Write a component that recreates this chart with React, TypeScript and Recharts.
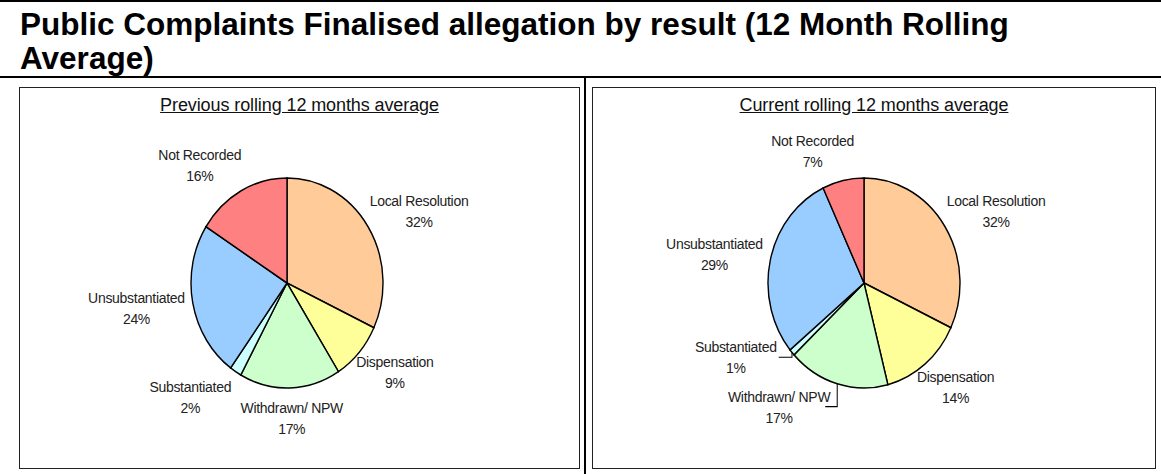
import { PieChart, Pie, Cell } from 'recharts';

const CATEGORIES = ['Local Resolution', 'Dispensation', 'Withdrawn/ NPW', 'Substantiated', 'Unsubstantiated', 'Not Recorded'];
const PREVIOUS = [32, 9, 17, 2, 24, 16];
const CURRENT = [32, 14, 17, 1, 29, 7];

const COLORS = ['#FFCC99', '#FFFF99', '#CCFFCC', '#CCFFFF', '#99CCFF', '#FF8080'];

// Excel-style label tweaks: [dx, dy, leaderLine]
const PREV_NUDGE: Record<string, [number, number, boolean]> = {
  Substantiated: [-18, 0, false],
  'Not Recorded': [-18, 0, false],
};
const CURR_NUDGE: Record<string, [number, number, boolean]> = {
  'Withdrawn/ NPW': [-43, -6, true],
  Substantiated: [-18, -15, true],
  'Not Recorded': [-20, 0, false],
};

const K = 1.094; // vertical stretch of the pie (Excel plot area is not square)
const RADIUS = 96;
const GAP = 10;

const makeLabel = (nudges: Record<string, [number, number, boolean]>) => (props: any) => {
  const { cx, cy, midAngle, outerRadius, percent, index } = props;
  const name = CATEGORIES[index];
  const rad = (midAngle * Math.PI) / 180;
  const ux = Math.cos(rad);
  const uy = -Math.sin(rad);
  const ex = ux * outerRadius;
  const ey = uy * outerRadius * K;
  const w = name.length * 6.3;
  const h = 40;
  let bx = ex + ux * GAP + (ux * w) / 2;
  let by = ey + uy * GAP + (uy * h) / 2;
  const n = nudges[name];
  if (n) {
    bx += n[0];
    by += n[1];
  }
  const toY = (sy: number) => cy + sy / K;
  const right = bx + w / 2;
  const cornerX = Math.max(ex, right + 5);
  return (
    <g key={`lbl-${index}`}>
      {n && n[2] && (
        <polyline
          points={`${cx + ex},${toY(ey)} ${cx + cornerX},${toY(by)} ${cx + right + 2},${toY(by)}`}
          fill="none"
          stroke="#000"
          strokeWidth={1}
        />
      )}
      <g transform={`translate(${cx + bx},${toY(by)}) scale(1,${1 / K})`}>
        <text textAnchor="middle" y={-5} fontSize={14} letterSpacing={-0.3} fill="#222">
          {name}
        </text>
        <text textAnchor="middle" y={16} fontSize={14} letterSpacing={-0.3} fill="#222">
          {Math.round(percent * 100)}%
        </text>
      </g>
    </g>
  );
};

function Panel({ left, width, title, values, cx, nudges }: any) {
  const data = CATEGORIES.map((name, i) => ({ name, value: values[i] }));
  return (
    <div
      style={{
        position: 'absolute',
        left,
        top: 87,
        width,
        height: 382,
        border: '1px solid #222',
        boxSizing: 'border-box',
        overflow: 'hidden',
      }}
    >
      <div
        style={{
          position: 'absolute',
          top: 7,
          left: 0,
          width: '100%',
          textAlign: 'center',
          fontSize: 18,
          letterSpacing: -0.1,
          textDecoration: 'underline',
          color: '#111',
          zIndex: 2,
        }}
      >
        {title}
      </div>
      <div style={{ position: 'absolute', left: 0, top: 0, transform: `scaleY(${K})`, transformOrigin: '0 195px' }}>
        <PieChart width={width - 2} height={380} margin={{ top: 0, right: 0, bottom: 0, left: 0 }}>
          <Pie
            data={data}
            dataKey="value"
            cx={cx}
            cy={195}
            outerRadius={RADIUS}
            startAngle={90}
            endAngle={-270}
            stroke="#000"
            strokeWidth={1.4}
            labelLine={false}
            label={makeLabel(nudges)}
            isAnimationActive={false}
          >
            {data.map((_, i) => (
              <Cell key={`cell-${i}`} fill={COLORS[i]} />
            ))}
          </Pie>
        </PieChart>
      </div>
    </div>
  );
}

export default function App() {
  return (
    <div
      style={{
        position: 'absolute',
        left: 0,
        top: 0,
        width: 1161,
        height: 474,
        background: '#fff',
        fontFamily: '"Liberation Sans", Arial, sans-serif',
        overflow: 'hidden',
      }}
    >
      <div style={{ position: 'absolute', left: 0, top: 0, width: 1161, height: 2, background: '#000' }} />
      <div
        style={{
          position: 'absolute',
          left: 20,
          top: 7,
          fontSize: 31.5,
          fontWeight: 'bold',
          lineHeight: '34px',
          color: '#000',
          whiteSpace: 'nowrap',
        }}
      >
        Public Complaints Finalised allegation by result (12 Month Rolling
        <br />
        Average)
      </div>
      <div style={{ position: 'absolute', left: 0, top: 76, width: 1161, height: 2, background: '#000' }} />
      <div style={{ position: 'absolute', left: 584, top: 76, width: 2, height: 398, background: '#000' }} />
      <Panel left={19} width={561} title="Previous rolling 12 months average" values={PREVIOUS} cx={267} nudges={PREV_NUDGE} />
      <Panel left={592} width={564} title="Current rolling 12 months average" values={CURRENT} cx={271} nudges={CURR_NUDGE} />
    </div>
  );
}
